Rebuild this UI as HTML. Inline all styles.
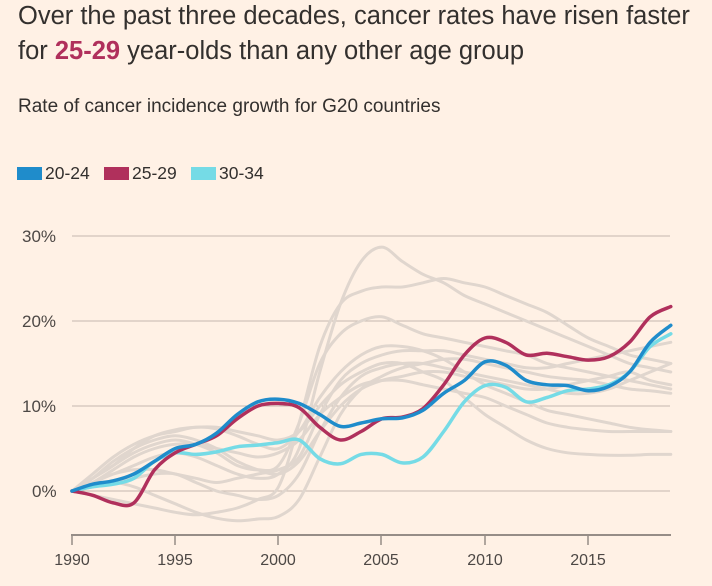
<!DOCTYPE html>
<html><head><meta charset="utf-8"><style>
html,body{margin:0;padding:0;background:#fff1e5;}
body{width:712px;height:586px;position:relative;overflow:hidden;font-family:"Liberation Sans",sans-serif;color:#33302e;}
.t{position:absolute;left:18px;top:-1px;font-size:25.5px;line-height:35px;color:#33302e;}
.t b{color:#b0305c;font-weight:bold;}
.s{position:absolute;left:18px;top:96px;font-size:19px;color:#33302e;}
.lg{position:absolute;top:163px;font-size:17.5px;}
.sw{display:inline-block;width:25px;height:13px;vertical-align:-1px;margin-right:3px;}
</style></head><body>
<div class="t">Over the past three decades, cancer rates have risen faster<br>for <b>25-29</b> year-olds than any other age group</div>
<div class="s">Rate of cancer incidence growth for G20 countries</div>
<div class="lg" style="left:17px"><span class="sw" style="background:#1f8ccb"></span>20-24</div>
<div class="lg" style="left:104px"><span class="sw" style="background:#b0305c"></span>25-29</div>
<div class="lg" style="left:191px"><span class="sw" style="background:#75dbe6"></span>30-34</div>
<svg id="c" width="712" height="586" style="position:absolute;left:0;top:0" font-family="Liberation Sans, sans-serif">
<g stroke="#c4b8ae" stroke-width="1">
<line x1="72" x2="670" y1="236" y2="236"/><line x1="72" x2="670" y1="321" y2="321"/>
<line x1="72" x2="670" y1="406" y2="406"/><line x1="72" x2="670" y1="491" y2="491"/>
</g>
<g font-size="17" fill="#4d4845">
<text x="22" y="242">30%</text><text x="22" y="327">20%</text><text x="22" y="412">10%</text><text x="32" y="497">0%</text>
</g>
<line x1="71" x2="671" y1="535" y2="535" stroke="#968d87" stroke-width="2"/>
<g stroke="#968d87" stroke-width="1.5">
<line x1="72" x2="72" y1="535" y2="545"/><line x1="175" x2="175" y1="535" y2="545"/><line x1="278" x2="278" y1="535" y2="545"/>
<line x1="381" x2="381" y1="535" y2="545"/><line x1="485" x2="485" y1="535" y2="545"/><line x1="588" x2="588" y1="535" y2="545"/>
</g>
<g font-size="16" fill="#4d4845" text-anchor="middle">
<text x="72" y="565">1990</text><text x="175" y="565">1995</text><text x="278" y="565">2000</text>
<text x="381" y="565">2005</text><text x="485" y="565">2010</text><text x="588" y="565">2015</text>
</g>
<g id="grey" fill="none" stroke="#e0d6ce" stroke-width="3" stroke-linecap="round"></g>
<g id="main" fill="none" stroke-width="3.5" stroke-linecap="round"></g>
</svg>
<script>
function X(i){return 72+i*20.65;}
function Y(v){return 491-8.5*v;}
function path(d){
 var p=d.map(function(v,i){return [X(i),Y(v)];});
 var s="M"+p[0][0].toFixed(1)+","+p[0][1].toFixed(1);
 for(var i=0;i<p.length-1;i++){
  var p0=p[i-1]||p[i],p1=p[i],p2=p[i+1],p3=p[i+2]||p2;
  var c1=[p1[0]+(p2[0]-p0[0])/6,p1[1]+(p2[1]-p0[1])/6];
  var c2=[p2[0]-(p3[0]-p1[0])/6,p2[1]-(p3[1]-p1[1])/6];
  s+="C"+c1[0].toFixed(1)+","+c1[1].toFixed(1)+" "+c2[0].toFixed(1)+","+c2[1].toFixed(1)+" "+p2[0].toFixed(1)+","+p2[1].toFixed(1);
 }
 return s;
}
var grey=[
[0,1,2,3,4,4.5,4,3,2,1.5,2,5,14,22,27,28.7,27,25.5,24.5,23,22,21,20,19,18,17,16,15,14.5,14],
[0,-0.5,-1,-1.5,-2,-2.5,-2.8,-2.5,-2,-1,0.5,8,17,22,23.5,24,24,24.5,25,24.5,24,23,22,21,19.5,18,17,16,15.5,15],
[0,1.5,3,4.5,5.5,6,5.5,4.5,3,2.5,3,8,15,18.5,20,20.5,19.5,18.5,18,17.5,17,16.5,16,15,14.5,14,13.5,13,12.5,12],
[0,2,4,5.5,6.5,7,7.5,7.3,6.5,5.5,5,7,11,14,16,17,17,16.5,15.5,14,12.5,11.5,10.5,9.5,9,8.5,8,7.5,7.2,7],
[0,1.5,3,5,6.5,7.2,7.5,7.5,7,6.5,6,7,10,12.5,14,15,15,14,13,11,9,7.5,6,5,4.5,4.3,4.2,4.2,4.3,4.3],
[0,0.5,1,0.5,-0.5,-1.5,-2.5,-3.2,-3.5,-3.3,-3,-1,4,9,12,13.5,14.5,15,15.5,15.5,15,14.5,14,13.5,13.2,13,12.5,12,11.8,11.5],
[0,1,2,2.5,2.5,2,1.5,1,1.5,2,2.5,4,9,13,15,16,16.5,16.5,16.5,16,15.5,15,14.5,14.5,15,15.5,16,16.5,17,17.5],
[0,1,2.5,4,5,5.5,5.5,5,4.5,4,4.5,6,9,11,12.5,13,13,12.5,12,11.5,11,10,9,8,7.5,7.2,7,7,7,7],
[0,0.5,1,1.5,2,2,1,0,-0.5,-1,-0.5,2,7,11,13.5,14.5,15,15,14.5,14,13.5,13,12.5,12,11.5,11.5,12,13,14,15],
[0,1.5,3.5,5,6,6.5,6,5,3.5,2.5,2,3.5,7,10,12,13,13.5,14,14,13.5,13,12.5,12,12,12.5,13,13.5,14,13,12.5]
];
var main=[
["#75dbe6",[0,0.5,0.8,1.5,3.5,4.5,4.3,4.6,5.2,5.4,5.7,6,3.8,3.2,4.3,4.3,3.3,4,7,10.5,12.4,12.2,10.5,11,11.8,12,12.5,14,17,18.5]],
["#b0305c",[0,-0.5,-1.4,-1.4,2.5,4.5,5.5,6.5,8.5,10,10.3,9.8,7.5,6,7,8.5,8.7,9.7,12.5,16,18,17.5,16,16.2,15.8,15.4,15.8,17.5,20.5,21.7]],
["#1f8ccb",[0,0.8,1.2,2,3.5,5,5.5,6.8,9,10.5,10.8,10.3,9,7.6,8,8.5,8.6,9.5,11.5,13,15.2,14.8,13,12.5,12.4,11.8,12.3,14,17.5,19.5]]
];
var ns="http://www.w3.org/2000/svg";
grey.forEach(function(d){var e=document.createElementNS(ns,"path");e.setAttribute("d",path(d));document.getElementById("grey").appendChild(e);});
main.forEach(function(m){var e=document.createElementNS(ns,"path");e.setAttribute("d",path(m[1]));e.setAttribute("stroke",m[0]);document.getElementById("main").appendChild(e);});
</script>
</body></html>
